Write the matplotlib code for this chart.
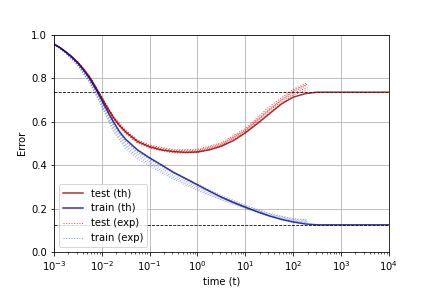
import numpy as np
import matplotlib
matplotlib.use('Agg')
import matplotlib.pyplot as plt

# theory curves (log10 of time -> error)
logt_th = [-3, -2.875, -2.75, -2.625, -2.5, -2.375, -2.25, -2.125, -2, -1.875, -1.75, -1.625,
           -1.5, -1.25, -1, -0.75, -0.5, -0.25, 0, 0.25, 0.5, 0.75, 1, 1.25, 1.5, 1.75,
           2, 2.25, 2.5, 3, 4]
test_th = [0.956, 0.940, 0.920, 0.898, 0.872, 0.840, 0.803, 0.757, 0.708, 0.660, 0.616, 0.580,
           0.552, 0.508, 0.484, 0.469, 0.462, 0.458, 0.460, 0.470, 0.487, 0.512, 0.548,
           0.590, 0.635, 0.680, 0.712, 0.728, 0.735, 0.735, 0.735]
train_th = [0.956, 0.940, 0.919, 0.896, 0.868, 0.835, 0.796, 0.749, 0.698, 0.645, 0.596, 0.552,
            0.518, 0.469, 0.433, 0.400, 0.366, 0.338, 0.309, 0.280, 0.252, 0.228, 0.206,
            0.185, 0.166, 0.150, 0.138, 0.129, 0.125, 0.125, 0.125]

# asymptotes
test_inf = 0.735
train_inf = 0.125

# experiments (several runs)
logt_exp = [-3, -2.75, -2.5, -2.25, -2, -1.75, -1.5, -1.25, -1, -0.5, 0, 0.5, 1, 1.5, 2, 2.3]
test_exp = [
    [0.956, 0.921, 0.874, 0.806, 0.714, 0.622, 0.560, 0.515, 0.492, 0.470, 0.472, 0.502, 0.568, 0.668, 0.748, 0.778],
    [0.956, 0.920, 0.871, 0.803, 0.710, 0.618, 0.555, 0.510, 0.488, 0.466, 0.468, 0.497, 0.562, 0.658, 0.738, 0.768],
    [0.956, 0.919, 0.872, 0.801, 0.706, 0.612, 0.548, 0.504, 0.481, 0.459, 0.461, 0.490, 0.556, 0.650, 0.730, 0.756],
    [0.956, 0.918, 0.869, 0.798, 0.702, 0.607, 0.544, 0.500, 0.477, 0.455, 0.456, 0.485, 0.550, 0.641, 0.722, 0.746],
    [0.956, 0.920, 0.873, 0.804, 0.708, 0.615, 0.552, 0.508, 0.485, 0.463, 0.464, 0.494, 0.559, 0.654, 0.742, 0.772],
]
train_exp = [
    [0.956, 0.917, 0.864, 0.790, 0.690, 0.582, 0.505, 0.458, 0.425, 0.362, 0.305, 0.255, 0.212, 0.175, 0.150, 0.145],
    [0.956, 0.916, 0.861, 0.785, 0.682, 0.572, 0.495, 0.448, 0.415, 0.352, 0.298, 0.250, 0.208, 0.172, 0.146, 0.140],
    [0.956, 0.915, 0.858, 0.780, 0.675, 0.562, 0.485, 0.438, 0.405, 0.343, 0.290, 0.244, 0.204, 0.168, 0.142, 0.136],
    [0.956, 0.914, 0.856, 0.776, 0.668, 0.552, 0.475, 0.428, 0.395, 0.335, 0.283, 0.240, 0.200, 0.165, 0.140, 0.133],
    [0.956, 0.918, 0.865, 0.792, 0.692, 0.587, 0.510, 0.462, 0.430, 0.368, 0.312, 0.260, 0.215, 0.178, 0.153, 0.148],
]

t_th = 10.0 ** np.array(logt_th)
t_exp = 10.0 ** np.array(logt_exp)

fig, ax = plt.subplots(figsize=(6, 4), dpi=72)
fig.subplots_adjust(left=0.125, right=0.9, top=0.88, bottom=0.125)

ax.axhline(test_inf, color='black', ls='--', lw=0.8)
ax.axhline(train_inf, color='black', ls='--', lw=0.8)

for i, y in enumerate(test_exp):
    ax.plot(t_exp, y, color='red', ls=':', lw=1, alpha=0.75,
            label='test (exp)' if i == 0 else None)
for i, y in enumerate(train_exp):
    ax.plot(t_exp, y, color='royalblue', ls=':', lw=1, alpha=0.65,
            label='train (exp)' if i == 0 else None)

ax.plot(t_th, test_th, color='darkred', lw=1.5, alpha=0.8, label='test (th)')
ax.plot(t_th, train_th, color='darkblue', lw=1.5, alpha=0.8, label='train (th)')

ax.set_xscale('log')
ax.set_xlim(1e-3, 1e4)
ax.set_ylim(0, 1)
ax.set_xlabel('time (t)')
ax.set_ylabel('Error')
ax.grid(True)

handles, labels = ax.get_legend_handles_labels()
order = [labels.index(l) for l in ['test (th)', 'train (th)', 'test (exp)', 'train (exp)']]
ax.legend([handles[i] for i in order], [labels[i] for i in order], loc='lower left')

fig.savefig('out.png', dpi=72)
